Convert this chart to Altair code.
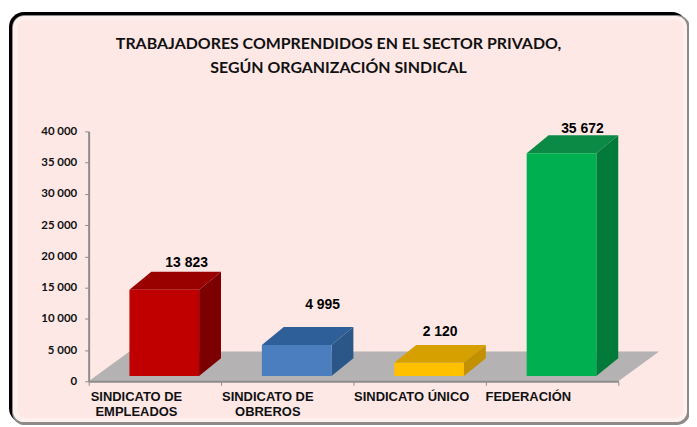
import altair as alt
import pandas as pd

# ---- values ----
categories = ["SINDICATO DE\nEMPLEADOS", "SINDICATO DE\nOBREROS", "SINDICATO ÚNICO", "FEDERACIÓN"]
values = [13823, 4995, 2120, 35672]
value_labels = ["13 823", "4 995", "2 120", "35 672"]
title_text = "TRABAJADORES COMPRENDIDOS EN EL SECTOR PRIVADO,\nSEGÚN ORGANIZACIÓN SINDICAL"
y_ticks = [0, 5000, 10000, 15000, 20000, 25000, 30000, 35000, 40000]
x_ticks = [0, 1, 2, 3, 4]

# ---- styling ----
front_colors = ["#c00000", "#4a7ebf", "#ffc000", "#00b050"]
top_colors = ["#990000", "#2f5f98", "#d6a000", "#0b8a46"]
side_colors = ["#7d0000", "#2b5788", "#c39000", "#027a3a"]
floor_color = "#b4b2b2"
axis_color = "#8c8c8c"

W, H = 532, 251
LEFT, TOP = 81, 123
Y_PER_PX = 40000 / H
X_PER_PX = 4 / W

BAR_LEFT = 0.308          # front face inside the category
BAR_WIDTH = 0.526
BASE = 5.2 * Y_PER_PX     # front face stands slightly in front of the axis
DEPTH_X = 22 * X_PER_PX
DEPTH_Y = 18 * Y_PER_PX
FLOOR_X = 41 * X_PER_PX
FLOOR_Y = 30 * Y_PER_PX

label_center = [0.740, 0.767, 0.654, 0.729]   # value-label centre within a category
label_lift_px = [9, 22, 13, 6]                # gap above the back top edge
cat_center = [0.361, 0.353, 0.440, 0.320]     # category-label centre within a category

x_scale = alt.Scale(domain=[0, 4], nice=False, zero=False)
y_scale = alt.Scale(domain=[0, 40000], nice=False)


def frame(x0, y0, x1, y1, color, radius):
    return alt.Chart(pd.DataFrame({"a": [0]})).mark_rect(color=color, cornerRadius=radius).encode(
        x=alt.value(x0 - LEFT - 8), x2=alt.value(x1 - LEFT - 8),
        y=alt.value(y0 - TOP - 8), y2=alt.value(y1 - TOP - 8),
    )


frames = [
    frame(9, 11, 690, 424, "#000000", 15),
    frame(12, 14, 693, 426, "#8f8a8a", 13),
    frame(13, 15, 690, 423, "#fdf0ed", 11),
    frame(18, 19, 686, 419, "#fee8e6", 8),
]

# faces as parallelograms in data units
faces = []
for fx, lo, hi in [(0, 0, 0), (FLOOR_X, 0, FLOOR_Y), (4, 0, FLOOR_Y), (4 + FLOOR_X, FLOOR_Y, FLOOR_Y)]:
    faces.append(dict(face="floor", color=floor_color, x=fx, lo=lo, hi=hi))

fronts = []
for i, v in enumerate(values):
    x0 = i + BAR_LEFT
    x1 = x0 + BAR_WIDTH
    top = BASE + v
    fronts.append(dict(x0=x0, x1=x1, lo=BASE, hi=top, color=front_colors[i]))
    f = f"top{i}"
    for fx, lo, hi in [(x0, top, top), (x0 + DEPTH_X, top, top + DEPTH_Y),
                       (x1, top, top + DEPTH_Y), (x1 + DEPTH_X, top + DEPTH_Y, top + DEPTH_Y)]:
        faces.append(dict(face=f, color=top_colors[i], x=fx, lo=lo, hi=hi))
    f = f"side{i}"
    for fx, lo, hi in [(x1, BASE, top), (x1 + DEPTH_X, BASE + DEPTH_Y, top + DEPTH_Y)]:
        faces.append(dict(face=f, color=side_colors[i], x=fx, lo=lo, hi=hi))

faces = pd.DataFrame(faces)
floor_df = faces[faces.face == "floor"]
bar_faces = faces[faces.face != "floor"]
fronts = pd.DataFrame(fronts)

x_axis = alt.Axis(values=x_ticks, labels=False, title=None, grid=False, domainColor=axis_color, domainWidth=2,
                  tickColor=axis_color, tickSize=4, zindex=1)
y_axis = alt.Axis(values=y_ticks, title=None, grid=False, domainColor=axis_color, domainWidth=2,
                  tickColor=axis_color, tickSize=4, labelFont="Lato", labelFontWeight="bold", labelFontSize=11.5,
                  labelColor="#111111", labelPadding=8, zindex=1,
                  labelExpr="replace(format(datum.value, ','), ',', ' ')")


def area_layer(df):
    return alt.Chart(df).mark_area(interpolate="linear", strokeWidth=0).encode(
        x=alt.X("x:Q", scale=x_scale, axis=x_axis),
        y=alt.Y("lo:Q", scale=y_scale, axis=y_axis),
        y2="hi:Q",
        detail="face:N",
        color=alt.Color("color:N", scale=None),
    )


floor = area_layer(floor_df)
sides = area_layer(bar_faces)
front = alt.Chart(fronts).mark_rect().encode(
    x=alt.X("x0:Q", scale=x_scale, axis=x_axis), x2="x1:Q",
    y=alt.Y("lo:Q", scale=y_scale, axis=y_axis), y2="hi:Q",
    color=alt.Color("color:N", scale=None),
)

value_df = pd.DataFrame({
    "x": [i + c for i, c in enumerate(label_center)],
    "y": [BASE + v + DEPTH_Y + l * Y_PER_PX for v, l in zip(values, label_lift_px)],
    "t": value_labels,
})
value_text = alt.Chart(value_df).mark_text(font="Liberation Sans", fontWeight="bold", fontSize=14,
                                           color="#000000", baseline="middle").encode(
    x=alt.X("x:Q", scale=x_scale, axis=x_axis),
    y=alt.Y("y:Q", scale=y_scale, axis=y_axis),
    text="t:N",
)

cat_df = pd.DataFrame({"x": [i + c for i, c in enumerate(cat_center)], "t": categories})
cat_text = alt.Chart(cat_df).mark_text(font="Liberation Sans", fontWeight="bold", fontSize=13, color="#111111",
                                       baseline="top", lineBreak="\n", lineHeight=15).encode(
    x=alt.X("x:Q", scale=x_scale, axis=x_axis),
    y=alt.value(H + 10),
    text="t:N",
)

title_df = pd.DataFrame({"t": [title_text]})
title_mark = alt.Chart(title_df).mark_text(font="Lato", fontWeight="bold", fontSize=16, color="#111111",
                                           baseline="top", lineBreak="\n", lineHeight=24).encode(
    x=alt.value(340 - LEFT - 8),
    y=alt.value(35 - TOP - 8),
    text="t:N",
)

chart = alt.layer(*frames, floor, sides, front, value_text, cat_text, title_mark).properties(
    width=W, height=H,
    padding={"left": LEFT, "top": TOP, "right": 71, "bottom": 44},
    autosize=alt.AutoSizeParams(type="none"),
    background="#ffffff",
).configure_view(stroke=None)

chart.save("out.html", embed_options={"renderer": "svg", "actions": False})
